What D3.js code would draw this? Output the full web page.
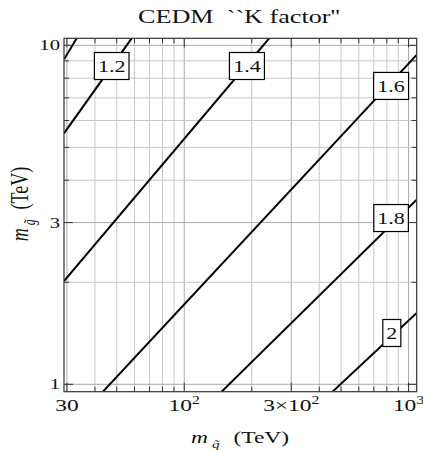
<!DOCTYPE html>
<html><head><meta charset="utf-8">
<script src="https://cdn.jsdelivr.net/npm/d3@7"></script>
<style>body{margin:0;background:#fff} svg{display:block} text{font-family:"Liberation Serif",serif;fill:#111}</style>
</head><body><svg id="c" width="423" height="450"></svg>
<script>
// ---- data ----
const xDomain = [29.11, 1087];
const yDomain = [0.951, 10.49];
const xMajorTicks = [30, 100, 300, 1000];
const xTickBase = ["30", "10", "3×10", "10"];
const xTickExp = ["", "2", "2", "3"];
const yMajorTicks = [1, 3, 10];
const yTickLabels = ["1", "3", "10"];
const xGrid = [30,40,50,60,70,80,90,100,200,300,400,500,600,700,800,900,1000];
const yGrid = [1,2,3,4,5,6,7,8,9,10];
const contourLevels = [1.0, 1.2, 1.4, 1.6, 1.8, 2.0];
const contourX = [[29.11, 33.18], [29.11, 58.3], [29.11, 239.1], [43.4, 1084], [146.7, 1084], [458.1, 1084]];
const contourY = [[9.094, 10.49], [5.50, 10.49], [2.017, 10.49], [0.951, 9.36], [0.951, 3.497], [0.951, 1.62]];
const labelText = [null, "1.2", "1.4", "1.6", "1.8", "2"];
const labelX = [null, 47.5, 190.3, 835.6, 835.6, 842];
const labelY = [null, 8.69, 8.69, 7.59, 3.094, 1.417];
const title = "CEDM  ``K factor''";

// ---- layout ----
const L = 64, R = 416.7, T = 38.3, B = 391.7, SX = 1.38;
const svg = d3.select("#c");
const x = d3.scaleLog().domain(xDomain).range([L, R]);
const y = d3.scaleLog().domain(yDomain).range([B, T]);

svg.append("clipPath").attr("id","clip").append("rect")
  .attr("x", L).attr("y", T).attr("width", R-L).attr("height", B-T);

// grid
const grid = svg.append("g").attr("clip-path","url(#clip)");
grid.selectAll(".gx").data(xGrid).join("line")
  .attr("x1", d=>x(d)).attr("x2", d=>x(d)).attr("y1", T).attr("y2", B)
  .attr("stroke", d=>xMajorTicks.includes(d)?"#aaaaaa":"#c8c8c8").attr("stroke-width", 1);
grid.selectAll(".gy").data(yGrid).join("line")
  .attr("y1", d=>y(d)).attr("y2", d=>y(d)).attr("x1", L).attr("x2", R)
  .attr("stroke", d=>yMajorTicks.includes(d)?"#aaaaaa":"#c8c8c8").attr("stroke-width", 1);

// contours
const line = d3.line().x(d=>x(d[0])).y(d=>y(d[1]));
const cg = svg.append("g").attr("clip-path","url(#clip)");
contourLevels.forEach((lv, i) => {
  const pts = contourX[i].map((v, j) => [v, contourY[i][j]]);
  cg.append("path").datum(pts).attr("d", line)
    .attr("fill","none").attr("stroke","#000").attr("stroke-width", 2);
});

// frame ticks
const fr = svg.append("g").attr("stroke","#333").attr("stroke-width",1);
xGrid.forEach(v => {
  const len = xMajorTicks.includes(v) ? 9 : 5;
  fr.append("line").attr("x1", x(v)).attr("x2", x(v)).attr("y1", B).attr("y2", B-len);
  fr.append("line").attr("x1", x(v)).attr("x2", x(v)).attr("y1", T).attr("y2", T+len);
});
yGrid.forEach(v => {
  const len = yMajorTicks.includes(v) ? 9 : 5;
  fr.append("line").attr("y1", y(v)).attr("y2", y(v)).attr("x1", L).attr("x2", L+len);
  fr.append("line").attr("y1", y(v)).attr("y2", y(v)).attr("x1", R).attr("x2", R-len);
});
svg.append("rect").attr("x", L).attr("y", T).attr("width", R-L).attr("height", B-T)
  .attr("fill","none").attr("stroke","#333").attr("stroke-width",1.2);

// contour labels
contourLevels.forEach((lv, i) => {
  if (!labelText[i]) return;
  const g = svg.append("g").attr("transform", `translate(${x(labelX[i])},${y(labelY[i])})`);
  const rect = g.append("rect");
  const t = g.append("text").attr("transform", `scale(${SX},1)`).attr("text-anchor","middle")
    .attr("dy", "0.35em").attr("font-size", 16).text(labelText[i]);
  const w = t.node().getBBox().width * SX + 7;
  rect.attr("x", -w/2).attr("y", -13.5).attr("width", w).attr("height", 27)
    .attr("fill","#fff").attr("stroke","#000").attr("stroke-width",1.2);
});

// x tick labels
xMajorTicks.forEach((v, i) => {
  const t = svg.append("text").attr("transform", `translate(${x(v)},411) scale(${SX},1)`)
    .attr("text-anchor","middle").attr("font-size", 17);
  t.append("tspan").text(xTickBase[i]);
  if (xTickExp[i]) t.append("tspan").attr("dy", -7).attr("font-size", 11.5).text(xTickExp[i]);
});
// y tick labels
yMajorTicks.forEach((v, i) => {
  svg.append("text").attr("transform", `translate(60,${y(v)+5}) scale(${SX},1)`)
    .attr("text-anchor","end").attr("font-size", 15).text(yTickLabels[i]);
});

// title: stretch to the reference width
const tt = svg.append("text").attr("text-anchor","middle").attr("font-size", 19.5)
  .style("white-space","pre").attr("fill","#1a1a1a").text(title);
const tw = tt.node().getBBox().width;
tt.attr("transform", `translate(239,23) scale(${202 / tw},1)`);

// axis labels
function axisLabel(tr, sub, fs) {
  const g = svg.append("g").attr("transform", tr);
  const t = g.append("text").attr("text-anchor","middle").attr("font-size", fs);
  t.append("tspan").attr("font-style","italic").text("m");
  t.append("tspan").attr("dx", 3).attr("dy", 5).attr("font-size", fs*0.65).attr("font-style","italic").text(sub);
  t.append("tspan").attr("dx", 10).attr("dy", -5).text("(TeV)");
}
axisLabel(`translate(240,443) scale(${SX},1)`, "q\u0303", 17);
axisLabel(`translate(28,204) scale(${SX},1) rotate(-90)`, "g\u0303", 18);
</script></body></html>
